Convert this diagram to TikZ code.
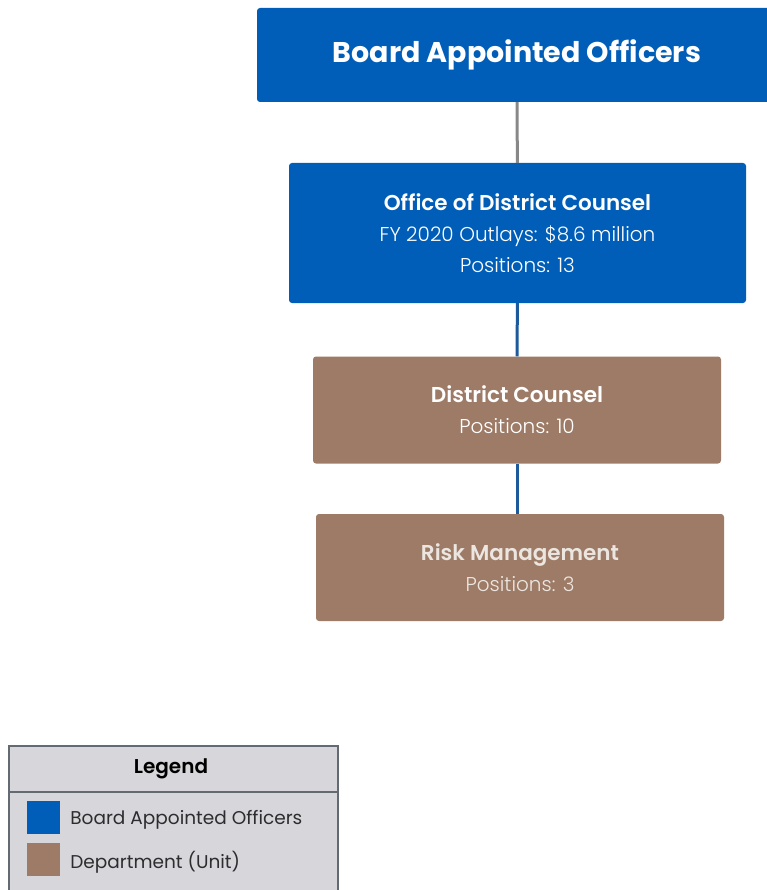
\documentclass[tikz,border=0pt]{standalone}
\usepackage{fontspec}
\setmainfont{Poppins}[UprightFont=* Light, BoldFont=* SemiBold]
\newfontfamily\keyfont{Poppins}
\newfontfamily\heavyfont{Poppins Bold}
\usetikzlibrary{positioning}
\definecolor{bBlue}{RGB}{0,94,184}
\definecolor{bBrown}{RGB}{157,123,103}
\definecolor{lGray}{RGB}{215,215,219}
\definecolor{lBorder}{RGB}{100,106,114}
\definecolor{cGray}{RGB}{136,136,136}
\definecolor{cBlue}{RGB}{28,90,155}
\definecolor{rmText}{RGB}{236,230,224}
\definecolor{kText}{RGB}{45,45,48}
\tikzset{
    officer/.style={rectangle, rounded corners=3pt, fill=bBlue, text=white, align=center, inner sep=0pt},
    unit/.style={rectangle, rounded corners=3pt, fill=bBrown, text=white, align=center, inner sep=0pt,
        minimum width=408pt, minimum height=107pt},
    link/.style={line width=3pt},
    swatch/.style={rectangle, inner sep=0pt, minimum size=33pt},
    keytext/.style={inner sep=0pt, text=kText, yshift=-3pt, font=\keyfont\fontsize{18.5}{22}\selectfont}
}
\newcommand{\boxtitle}[1]{{\fontsize{21.5}{24}\selectfont\bfseries #1}}

\begin{document}
\begin{tikzpicture}[x=1pt,y=-1pt]
\useasboundingbox (0,0) rectangle (767,890);
% chart
\node[officer, minimum width=520pt, minimum height=94pt,
      font=\heavyfont\fontsize{28.5}{32}\selectfont] (bao) at (517,55) {Board Appointed Officers};
\node[officer, minimum width=457pt, minimum height=140pt,
      font=\fontsize{20}{31}\selectfont] (odc) at (517.5,233)
      {\boxtitle{Office of District Counsel}\\FY 2020 Outlays: \$8.6 million\\Positions: 13};
\node[unit, font=\fontsize{20}{31}\selectfont] (dc) at (517,410)
      {\boxtitle{District Counsel}\\Positions: 10};
\node[unit, text=rmText, font=\fontsize{20}{31}\selectfont] (rm) at (520,567.5)
      {\boxtitle{Risk Management}\\Positions: 3};
\draw[link, cGray] (bao) -- (odc);
\draw[link, cBlue] (odc) -- (dc);
\draw[link, cBlue] (dc.south) -- (dc.south |- rm.north);
% legend
\draw[fill=lGray, draw=lBorder, line width=1.2pt] (9,746) rectangle (338,905);
\draw[lBorder, line width=1.2pt] (9,792) -- (338,792);
\node[font=\fontsize{20}{22}\selectfont\bfseries] (key) at (171,769) {Legend};
\node[swatch, fill=bBlue] (kbao) at (43.5,817) {};
\node[swatch, fill=bBrown] (kunit) at (43.5,859.5) {};
\node[keytext, right=10pt of kbao] (tbao) {Board Appointed Officers};
\node[keytext, right=10pt of kunit] (tunit) {Department (Unit)};
\end{tikzpicture}
\end{document}
